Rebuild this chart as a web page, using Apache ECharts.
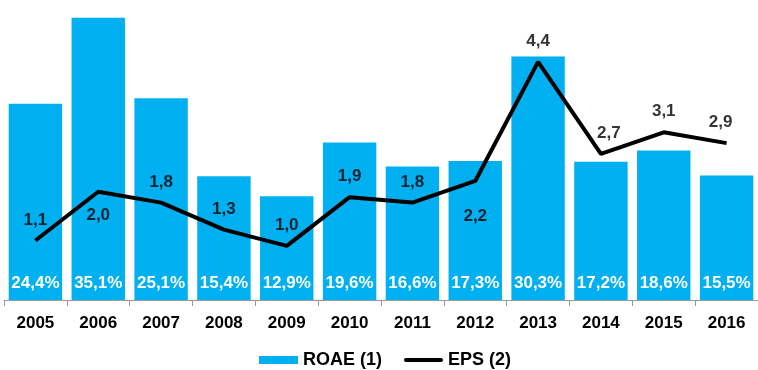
<!DOCTYPE html>
<html>
<head>
<meta charset="utf-8">
<script src="https://cdn.jsdelivr.net/npm/echarts@6/dist/echarts.min.js"></script>
<style>
  html, body { margin: 0; padding: 0; background: #ffffff; }
  #chart { width: 758px; height: 370px; }
</style>
</head>
<body>
<div id="chart"></div>
<script>
// Years on the category axis
const years = ['2005', '2006', '2007', '2008', '2009', '2010', '2011', '2012', '2013', '2014', '2015', '2016'];
// Return on average equity, %
const roae = [24.4, 35.1, 25.1, 15.4, 12.9, 19.6, 16.6, 17.3, 30.3, 17.2, 18.6, 15.5];
// Earnings per share
const eps = [1.1, 2.0, 1.8, 1.3, 1.0, 1.9, 1.8, 2.2, 4.4, 2.7, 3.1, 2.9];

const FONT = "'Liberation Sans', Arial, sans-serif";
const fmt = v => v.toFixed(1).replace('.', ',');

// EPS labels that sit under the line instead of above it
const labelsBelow = { 1: 15, 7: 27 };
// EPS labels nudged sideways off their point
const labelNudge = { 9: 8, 11: -6 };

const epsLabelData = eps.map((v, i) => {
  const label = {};
  if (labelsBelow[i] !== undefined) {
    label.position = 'bottom';
    label.distance = labelsBelow[i];
  }
  if (labelNudge[i] !== undefined) {
    label.offset = [labelNudge[i], 0];
  }
  return Object.keys(label).length ? { value: v, label } : v;
});

// thick rounded stroke for the EPS legend key
const lineKey = 'path://M2,0H38A2,2 0 0 1 38,4H2A2,2 0 0 1 2,0Z';

const chart = echarts.init(document.getElementById('chart'), null, { renderer: 'canvas' });
chart.setOption({
  animation: false,
  backgroundColor: '#ffffff',
  grid: { left: 4, width: 755, top: 10, height: 290 },
  legend: {
    left: 259,
    top: 351,
    padding: 0,
    itemWidth: 39,
    itemHeight: 8,
    itemGap: 22,
    symbolKeepAspect: true,
    textStyle: { fontFamily: FONT, fontSize: 18, fontWeight: 'bold', color: '#000' },
    data: [
      { name: 'ROAE (1)', icon: 'rect' },
      { name: 'EPS (2)', icon: lineKey, itemStyle: { color: '#000000' } }
    ]
  },
  xAxis: {
    type: 'category',
    data: years,
    axisLine: { lineStyle: { color: '#999999', width: 1 } },
    axisTick: { show: true, length: 6, alignWithLabel: false, lineStyle: { color: '#999999' } },
    axisLabel: { margin: 15, fontFamily: FONT, fontSize: 17, fontWeight: 'bold', color: '#000' }
  },
  yAxis: [
    { type: 'value', min: 0, max: 36.07, show: false, splitLine: { show: false } },
    { type: 'value', min: 0, max: 5.36, show: false, splitLine: { show: false } }
  ],
  series: [
    {
      name: 'ROAE (1)',
      type: 'bar',
      yAxisIndex: 0,
      data: roae,
      barWidth: '85%',
      itemStyle: { color: '#00B0F0' },
      label: {
        show: true,
        position: 'insideBottom',
        distance: 8,
        formatter: p => fmt(p.value) + '%',
        fontFamily: FONT,
        fontSize: 17,
        fontWeight: 'bold',
        color: '#ffffff'
      }
    },
    {
      name: 'EPS (2)',
      type: 'line',
      yAxisIndex: 1,
      data: eps,
      symbol: 'none',
      lineStyle: { color: '#000000', width: 4 },
      itemStyle: { color: '#000000' },
      z: 5
    },
    {
      // value labels for the EPS line
      name: 'EPS labels',
      type: 'scatter',
      yAxisIndex: 1,
      data: epsLabelData,
      symbolSize: 0,
      itemStyle: { color: '#000000' },
      z: 6,
      label: {
        show: true,
        position: 'top',
        distance: 12,
        formatter: p => fmt(p.value),
        fontFamily: FONT,
        fontSize: 17,
        fontWeight: 'bold',
        color: '#000000'
      }
    }
  ]
});
</script>
</body>
</html>
